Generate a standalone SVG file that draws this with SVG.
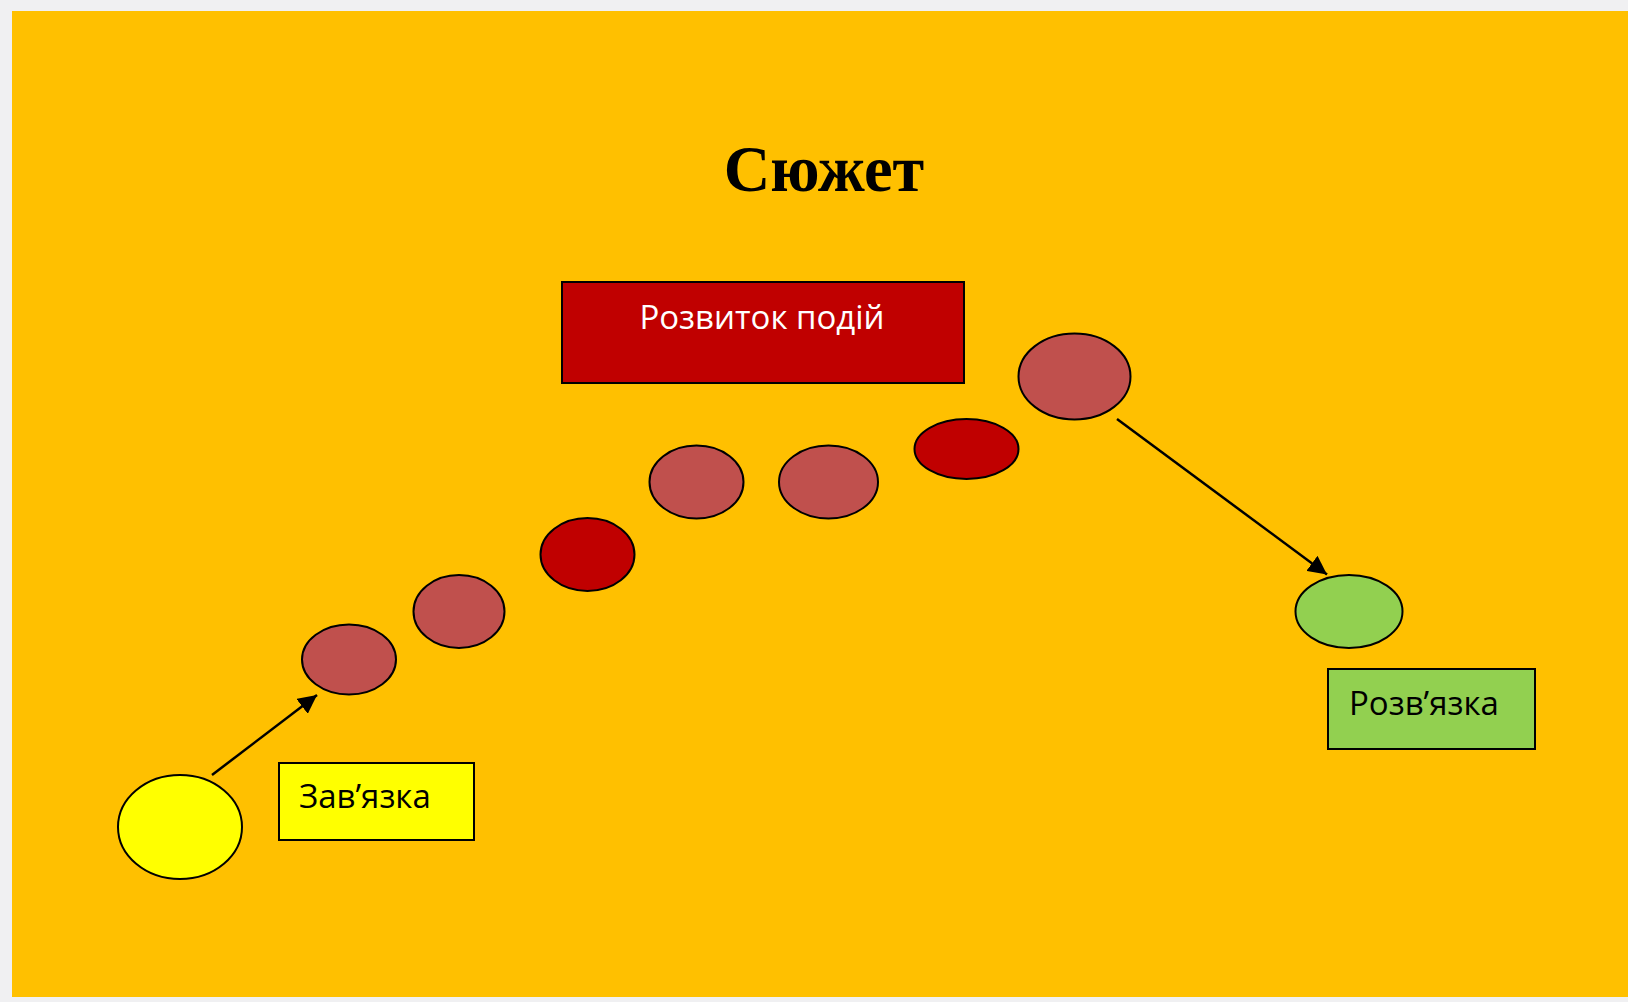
<svg xmlns="http://www.w3.org/2000/svg" width="1628" height="1002" viewBox="0 0 1628 1002">
<defs>
<style>
.node{stroke:#000;stroke-width:2}
.brown{fill:#C0504D}
.dred{fill:#C00000}
.lbl{font-family:"Open Sans","Noto Sans",sans-serif;font-size:33px}
.conn line{stroke:#000;stroke-width:2.5}
</style>
<marker id="arr" viewBox="0 0 10 10" refX="10" refY="5" markerWidth="7.5" markerHeight="7.5" markerUnits="strokeWidth" orient="auto">
<path d="M0,0 L10,5 L0,10 z" fill="#000"/>
</marker>
</defs>
<rect x="0" y="0" width="1628" height="1002" fill="#f0f0f2"/>
<rect x="12" y="11" width="1616" height="986" fill="#FFC000"/>
<text id="title" x="824" y="191" text-anchor="middle" font-family="'Liberation Serif',serif" font-weight="bold" font-size="64.5">Сюжет</text>
<g id="n-start"><ellipse class="node" cx="180" cy="827" rx="62" ry="52" fill="#FFFF00"/></g>
<g id="n-zav"><rect class="node" x="279" y="763" width="195" height="77" fill="#FFFF00"/><text class="lbl" x="299" y="808">Зав’язка</text></g>
<g id="n-1"><ellipse class="node brown" cx="349" cy="659.5" rx="47" ry="35"/></g>
<g id="n-2"><ellipse class="node brown" cx="459" cy="611.5" rx="45.5" ry="36.5"/></g>
<g id="n-3"><ellipse class="node dred" cx="587.5" cy="554.5" rx="47" ry="36.5"/></g>
<g id="n-4"><ellipse class="node brown" cx="696.5" cy="482" rx="47" ry="36.5"/></g>
<g id="n-5"><ellipse class="node brown" cx="828.5" cy="482" rx="49.5" ry="36.5"/></g>
<g id="n-6"><ellipse class="node dred" cx="966.5" cy="449" rx="52" ry="30"/></g>
<g id="n-7"><ellipse class="node brown" cx="1074.5" cy="376.5" rx="56" ry="43"/></g>
<g id="n-dev"><rect class="node dred" x="562" y="282" width="402" height="101"/><text class="lbl" x="762" y="329" text-anchor="middle" fill="#fff">Розвиток подій</text></g>
<g id="n-end"><ellipse class="node" cx="1349" cy="611.5" rx="53.5" ry="36.5" fill="#92D050"/></g>
<g id="n-roz"><rect class="node" x="1328" y="669" width="207" height="80" fill="#92D050"/><text class="lbl" x="1349" y="715">Розв’язка</text></g>
<g id="connectors" class="conn">
<line x1="212" y1="775" x2="317" y2="695" marker-end="url(#arr)"/>
<line x1="1117" y1="419" x2="1327" y2="574.5" marker-end="url(#arr)"/>
</g>
</svg>
